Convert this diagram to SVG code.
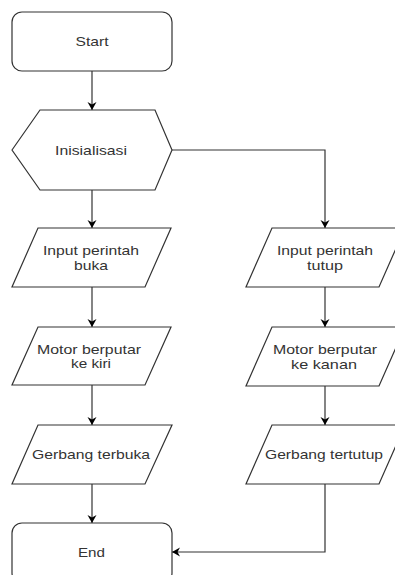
<svg xmlns="http://www.w3.org/2000/svg" width="395" height="575" viewBox="0 0 395 575">
<defs>
<style>
.shape{fill:#ffffff;stroke:#333333;stroke-width:1.2}
.edge{fill:none;stroke:#333333;stroke-width:1.2}
.t{font-family:"Liberation Sans",Arial,sans-serif;font-size:13.5px;fill:#333333;text-anchor:middle}
</style>
<marker id="arr" markerUnits="userSpaceOnUse" markerWidth="10" markerHeight="10" refX="8" refY="5" orient="auto">
<path d="M0,0.5 L8,5 L0,9.5 L2.5,5 Z" fill="#000000"/>
</marker>
</defs>
<rect width="395" height="575" fill="#ffffff"/>
<g id="connectors">
<path class="edge" d="M92,71 L92,110" marker-end="url(#arr)"/>
<path class="edge" d="M92,190 L92,228" marker-end="url(#arr)"/>
<path class="edge" d="M172,150 L325,150 L325,228" marker-end="url(#arr)"/>
<path class="edge" d="M92,287 L92,327" marker-end="url(#arr)"/>
<path class="edge" d="M92,385 L92,425" marker-end="url(#arr)"/>
<path class="edge" d="M92,484 L92,523" marker-end="url(#arr)"/>
<path class="edge" d="M325,287 L325,327" marker-end="url(#arr)"/>
<path class="edge" d="M325,386 L325,425" marker-end="url(#arr)"/>
<path class="edge" d="M325,484 L325,552 L172,552" marker-end="url(#arr)"/>
</g>
<g id="start">
<rect class="shape" x="12" y="12" width="160" height="59" rx="10"/>
<text class="t" x="92" y="46" textLength="33" lengthAdjust="spacingAndGlyphs">Start</text>
</g>
<g id="init">
<polygon class="shape" points="12,150 40,110 155,110 172,150 155,190 40,190"/>
<text class="t" x="91" y="154.5" textLength="72" lengthAdjust="spacingAndGlyphs">Inisialisasi</text>
</g>
<g id="input-buka">
<polygon class="shape" points="38,228 171,228 145,287 12,287"/>
<text class="t" x="91" y="255" textLength="96" lengthAdjust="spacingAndGlyphs">Input perintah</text>
<text class="t" x="91" y="269.5" textLength="34" lengthAdjust="spacingAndGlyphs">buka</text>
</g>
<g id="motor-kiri">
<polygon class="shape" points="38,327 171,327 145,385 12,385"/>
<text class="t" x="89" y="353.5" textLength="104" lengthAdjust="spacingAndGlyphs">Motor berputar</text>
<text class="t" x="91" y="368" textLength="40" lengthAdjust="spacingAndGlyphs">ke kiri</text>
</g>
<g id="gerbang-terbuka">
<polygon class="shape" points="38,425 172,425 145,484 12,484"/>
<text class="t" x="91" y="459" textLength="118" lengthAdjust="spacingAndGlyphs">Gerbang terbuka</text>
</g>
<g id="end">
<rect class="shape" x="12" y="523" width="160" height="60" rx="10"/>
<text class="t" x="91.5" y="557" textLength="27" lengthAdjust="spacingAndGlyphs">End</text>
</g>
<g id="input-tutup">
<polygon class="shape" points="272,228 405,228 379,287 246,287"/>
<text class="t" x="325" y="255" textLength="96" lengthAdjust="spacingAndGlyphs">Input perintah</text>
<text class="t" x="325" y="269.5" textLength="36" lengthAdjust="spacingAndGlyphs">tutup</text>
</g>
<g id="motor-kanan">
<polygon class="shape" points="272,327 405,327 379,386 246,386"/>
<text class="t" x="325" y="354" textLength="104" lengthAdjust="spacingAndGlyphs">Motor berputar</text>
<text class="t" x="324" y="368.5" textLength="66" lengthAdjust="spacingAndGlyphs">ke kanan</text>
</g>
<g id="gerbang-tertutup">
<polygon class="shape" points="272,425 405,425 379,484 246,484"/>
<text class="t" x="324" y="459" textLength="118" lengthAdjust="spacingAndGlyphs">Gerbang tertutup</text>
</g>
</svg>
